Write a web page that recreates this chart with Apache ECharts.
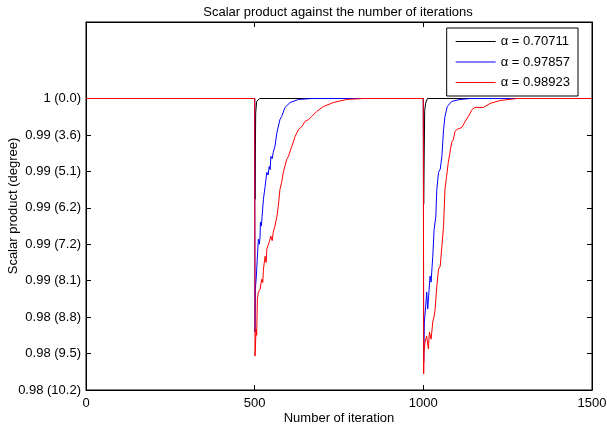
<!DOCTYPE html>
<html><head><meta charset="utf-8">
<script src="https://cdn.jsdelivr.net/npm/echarts@6/dist/echarts.min.js"></script>
<style>html,body{margin:0;padding:0;background:#fff}#c{width:607px;height:429px}</style>
</head><body><div id="c"></div>
<script>
// ---- data ----
const seriesNames = ['α = 0.70711', 'α = 0.97857', 'α = 0.98923'];
const yTickValues = [0.984, 0.986, 0.988, 0.990, 0.992, 0.994, 0.996, 0.998, 1.000];
const yTickLabels = ['0.98 (10.2)', '0.98 (9.5)', '0.98 (8.8)', '0.99 (8.1)', '0.99 (7.2)', '0.99 (6.2)', '0.99 (5.1)', '0.99 (3.6)', '1 (0.0)'];
const xTickValues = [0, 500, 1000, 1500];

const blackX = [0, 500, 501, 503, 506, 515, 1000, 1001, 1004, 1007, 1012, 1500];
const blackY = [1, 1, 0.99447, 0.99920, 0.99985, 1, 1, 0.99419, 0.99935, 0.99975, 1, 1];

const blueX = [0, 500, 501, 502, 505, 508, 511, 514, 516, 517, 520, 522, 526, 531, 536, 540, 543, 546, 548, 552, 555, 560, 566, 575, 580, 590, 605, 630, 670,
  1000, 1001, 1003, 1007, 1010, 1013, 1017, 1020, 1023, 1028, 1032, 1037, 1040, 1045, 1050, 1055, 1060, 1064, 1071, 1084, 1109, 1140, 1500];
const blueY = [1, 1, 0.98718, 0.98953, 0.99025, 0.99130, 0.99227, 0.99200, 0.99244, 0.99321, 0.99300, 0.99353, 0.99447, 0.99518, 0.99595, 0.99580, 0.99627, 0.99610, 0.99682, 0.99670, 0.99704, 0.99737, 0.99814, 0.99885, 0.99901, 0.99951, 0.99978, 0.99995, 1,
  1, 0.98553, 0.98773, 0.98860, 0.98937, 0.98844, 0.98844, 0.99025, 0.98992, 0.99134, 0.99282, 0.99353, 0.99501, 0.99595, 0.99611, 0.99682, 0.99830, 0.99901, 0.99956, 0.99984, 0.99995, 1, 1];

const redX = [0, 500, 501, 502, 504, 506, 508, 511, 516, 521, 524, 526, 531, 534, 536, 543, 548, 552, 555, 560, 566, 570, 575, 580, 585, 595, 600, 610, 620, 630, 640, 649, 660, 669, 684, 704, 733, 773, 822,
  1000, 1001, 1002, 1005, 1010, 1015, 1018, 1023, 1028, 1032, 1035, 1040, 1045, 1050, 1055, 1060, 1064, 1069, 1074, 1079, 1084, 1089, 1094, 1099, 1114, 1124, 1133, 1145, 1153, 1178, 1198, 1227, 1277, 1500];
const redY = [1, 1, 0.98586, 0.98620, 0.98734, 0.98700, 0.98899, 0.98937, 0.98953, 0.99008, 0.98990, 0.99063, 0.99134, 0.99100, 0.99173, 0.99211, 0.99244, 0.99220, 0.99266, 0.99299, 0.99353, 0.99408, 0.99501, 0.99540, 0.99595, 0.99666, 0.99682, 0.99737, 0.99792, 0.99830, 0.99846, 0.99874, 0.99885, 0.99901, 0.99929, 0.99956, 0.99978, 0.99995, 1,
  1, 0.98488, 0.98608, 0.98663, 0.98696, 0.98625, 0.98718, 0.98679, 0.98773, 0.98805, 0.98844, 0.98970, 0.99063, 0.99079, 0.99189, 0.99299, 0.99501, 0.99573, 0.99649, 0.99704, 0.99759, 0.99775, 0.99819, 0.99830, 0.99841, 0.99874, 0.99901, 0.99940, 0.99951, 0.99951, 0.99973, 0.99989, 1, 1];

// ---- chart ----
const zip = (xs, ys) => xs.map((x, i) => [x, ys[i]]);
const FONT = 'Liberation Sans';
const Y_MIN = 0.984, Y_MAX = 1.0042;
const chart = echarts.init(document.getElementById('c'), null, {renderer: 'canvas'});
const labelFor = v => {
  let best = 0, d = Infinity;
  yTickValues.forEach((t, i) => { const dd = Math.abs(t - v); if (dd < d) { d = dd; best = i; } });
  return d < 1e-6 ? yTickLabels[best] : '';
};
const tickStyle = {show: true, inside: true, length: 5, lineStyle: {color: '#000', width: 1}};
chart.setOption({
  animation: false,
  backgroundColor: '#fff',
  textStyle: {fontFamily: FONT},
  title: {
    text: 'Scalar product against the number of iterations',
    left: 338, top: 6, padding: 0, textAlign: 'center',
    textStyle: {fontFamily: FONT, fontSize: 13, fontWeight: 'normal', color: '#000'}
  },
  legend: {
    data: seriesNames,
    orient: 'vertical',
    right: 29, top: 28,
    backgroundColor: '#fff',
    borderColor: '#000', borderWidth: 1, borderRadius: 0,
    padding: [7, 8, 7, 9],
    icon: 'path://M0,0 H40 V1 H0 Z',
    itemWidth: 40, itemHeight: 13, itemGap: 7.5,
    textStyle: {fontFamily: FONT, fontSize: 13, color: '#000'}
  },
  grid: {left: 86, right: 15, top: 22, bottom: 39, outerBoundsMode: 'none', containLabel: false,
    show: true, borderColor: '#000', borderWidth: 1, backgroundColor: '#fff'},
  xAxis: [{
    type: 'value', min: 0, max: 1500, interval: 500,
    name: 'Number of iteration', nameLocation: 'middle', nameGap: 22, nameMoveOverlap: false,
    nameTextStyle: {fontFamily: FONT, fontSize: 13, color: '#000'},
    axisLine: {show: true, onZero: false, lineStyle: {color: '#000'}},
    axisTick: tickStyle,
    axisLabel: {color: '#000', fontSize: 13, fontFamily: FONT, margin: 7, customValues: xTickValues, formatter: v => String(v)},
    splitLine: {show: false}
  }, {
    type: 'value', min: 0, max: 1500, interval: 500, position: 'top',
    axisLine: {show: true, onZero: false, lineStyle: {color: '#000'}},
    axisTick: tickStyle, axisLabel: {show: false}, splitLine: {show: false}
  }],
  yAxis: [{
    type: 'value', min: Y_MIN, max: Y_MAX,
    name: 'Scalar product (degree)', nameLocation: 'middle', nameGap: 66, nameRotate: 90, nameMoveOverlap: false,
    nameTextStyle: {fontFamily: FONT, fontSize: 13, color: '#000'},
    axisLine: {show: true, onZero: false, lineStyle: {color: '#000'}},
    axisTick: Object.assign({customValues: yTickValues}, tickStyle),
    axisLabel: {color: '#000', fontSize: 13, fontFamily: FONT, margin: 5, customValues: yTickValues, formatter: labelFor},
    splitLine: {show: false}
  }, {
    type: 'value', min: Y_MIN, max: Y_MAX, position: 'right',
    axisLine: {show: true, onZero: false, lineStyle: {color: '#000'}},
    axisTick: Object.assign({customValues: yTickValues}, tickStyle),
    axisLabel: {show: false}, splitLine: {show: false}
  }],
  series: [
    {name: seriesNames[0], type: 'line', data: zip(blackX, blackY), symbol: 'none', lineStyle: {color: '#000', width: 1}, itemStyle: {color: '#000'}},
    {name: seriesNames[1], type: 'line', data: zip(blueX, blueY), symbol: 'none', lineStyle: {color: '#0000ff', width: 1}, itemStyle: {color: '#0000ff'}},
    {name: seriesNames[2], type: 'line', data: zip(redX, redY), symbol: 'none', lineStyle: {color: '#ff0000', width: 1}, itemStyle: {color: '#ff0000'}}
  ]
});
</script></body></html>
